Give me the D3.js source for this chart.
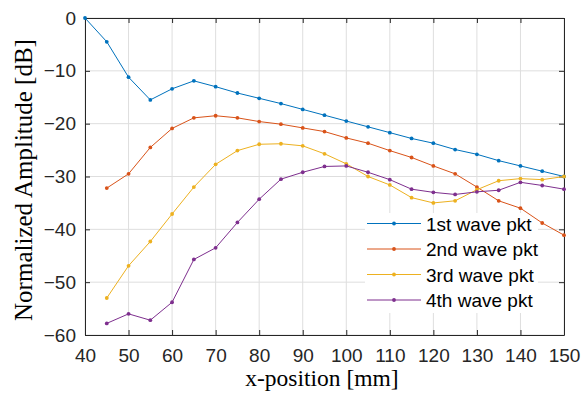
<!DOCTYPE html>
<html lang="en">
<head>
    <meta charset="UTF-8">
    <title>Normalized amplitude</title>
    <script src="https://d3js.org/d3.v7.min.js"></script>
    <style>
        body {margin: 0; background: white;}
        .tick text {font-family: "Liberation Sans", Arial, sans-serif; font-size: 19px; fill: #262626;}
        .lbl {font-family: "Liberation Serif", "Times New Roman", serif; fill: #000;}
        .leg text {font-family: "Liberation Sans", Arial, sans-serif; font-size: 19px; fill: #000;}
    </style>
</head>
<body>
<script>
    const width = 582;
    const height = 394;

    const xPos = [40, 45, 50, 55, 60, 65, 70, 75, 80, 85, 90, 95, 100, 105, 110, 115, 120, 125, 130, 135, 140, 145, 150];

    const pkt1 = [0, -4.5, -11.2, -15.5, -13.4, -11.9, -13.0, -14.2, -15.2, -16.2, -17.3, -18.4, -19.5, -20.6, -21.7, -22.8, -23.7, -24.9, -25.8, -27.0, -28.0, -29.0, -30.0];
    const pkt2 = [null, -32.2, -29.5, -24.5, -20.9, -18.9, -18.5, -18.9, -19.6, -20.1, -20.8, -21.5, -22.7, -23.7, -25.1, -26.4, -28.0, -29.5, -32.0, -34.6, -36.0, -38.8, -41.1];
    const pkt3 = [null, -53.0, -46.9, -42.3, -37.1, -32.0, -27.7, -25.1, -23.9, -23.8, -24.2, -25.7, -27.6, -30.0, -31.6, -34.0, -35.0, -34.6, -32.5, -30.8, -30.4, -30.6, -30.0];
    const pkt4 = [null, -57.8, -56.0, -57.2, -53.8, -45.7, -43.5, -38.7, -34.3, -30.5, -29.2, -28.1, -28.0, -29.2, -30.6, -32.4, -33.0, -33.4, -32.9, -32.6, -31.1, -31.7, -32.4];

    const names = ["1st wave pkt", "2nd wave pkt", "3rd wave pkt", "4th wave pkt"];
    const colors = ["#0072BD", "#D95319", "#EDB120", "#7E2F8E"];

    const xTicks = d3.range(40, 151, 10);
    const yTicks = d3.range(-60, 1, 10);

    const margin = {left: 85, right: 18, top: 18, bottom: 59};

    const svg = d3.select("body").append("svg")
            .attr("width", width).attr("height", height);

    const x = d3.scaleLinear().domain([40, 150]).range([margin.left, width - margin.right]);
    const y = d3.scaleLinear().domain([-60, 0]).range([height - margin.bottom, margin.top]);

    // grid
    svg.append("g").selectAll("line.gx")
            .data(xTicks).enter().append("line")
            .attr("x1", d => x(d)).attr("x2", d => x(d))
            .attr("y1", y(-60)).attr("y2", y(0))
            .style("stroke", "#dedede").style("stroke-width", 1);
    svg.append("g").selectAll("line.gy")
            .data(yTicks).enter().append("line")
            .attr("x1", x(40)).attr("x2", x(150))
            .attr("y1", d => y(d)).attr("y2", d => y(d))
            .style("stroke", "#dedede").style("stroke-width", 1);

    // axes, ticks inward on all four sides
    const axisColor = "#262626";
    function styleAxis(g) {
        g.select(".domain").style("stroke", axisColor);
        g.selectAll(".tick line").style("stroke", axisColor);
    }

    svg.append("g").attr("transform", `translate(0,${y(-60)})`)
            .call(d3.axisBottom(x).tickValues(xTicks).tickSizeInner(-5).tickSizeOuter(0).tickPadding(14))
            .call(styleAxis);
    svg.append("g").attr("transform", `translate(0,${y(0)})`)
            .call(d3.axisTop(x).tickValues(xTicks).tickSizeInner(-5).tickSizeOuter(0).tickFormat(""))
            .call(styleAxis);
    svg.append("g").attr("transform", `translate(${x(40)},0)`)
            .call(d3.axisLeft(y).tickValues(yTicks).tickSizeInner(-5).tickSizeOuter(0).tickPadding(9))
            .call(styleAxis);
    svg.append("g").attr("transform", `translate(${x(150)},0)`)
            .call(d3.axisRight(y).tickValues(yTicks).tickSizeInner(-5).tickSizeOuter(0).tickFormat(""))
            .call(styleAxis);

    svg.selectAll("g").attr("font-family", null).attr("font-size", null);

    // series
    const series = [pkt1, pkt2, pkt3, pkt4].map((vals, i) => ({
        name: names[i],
        color: colors[i],
        points: xPos.map((xv, j) => ({x: xv, y: vals[j]})).filter(p => p.y !== null)
    }));

    const line = d3.line().x(d => x(d.x)).y(d => y(d.y));

    // legend background sits under the lines, as in the original
    const leg = svg.append("g").attr("class", "leg");
    leg.append("rect")
            .attr("x", 365).attr("y", 213).attr("width", 173).attr("height", 100)
            .style("fill", "white");

    const grp = svg.selectAll("g.series")
            .data(series).enter()
            .append("g").attr("class", "series");

    grp.append("path")
            .attr("d", d => line(d.points))
            .style("fill", "none")
            .style("stroke", d => d.color)
            .style("stroke-width", 1);

    grp.each(function(s) {
        d3.select(this).selectAll("circle")
                .data(s.points).enter().append("circle")
                .attr("cx", d => x(d.x)).attr("cy", d => y(d.y))
                .attr("r", 1.9)
                .style("fill", s.color);
    });

    const item = svg.append("g").attr("class", "leg")
            .selectAll("g.item")
            .data(series).enter().append("g")
            .attr("transform", (d, i) => `translate(0,${223.5 + i * 25.5})`);
    item.append("line")
            .attr("x1", 367).attr("x2", 421).attr("y1", 0).attr("y2", 0)
            .style("stroke", d => d.color).style("stroke-width", 1);
    item.append("circle")
            .attr("cx", 394).attr("cy", 0).attr("r", 1.9)
            .style("fill", d => d.color);
    item.append("text")
            .attr("x", 426).attr("y", 7)
            .text(d => d.name);

    // axis labels
    svg.append("text").attr("class", "lbl")
            .attr("x", 322).attr("y", 386)
            .attr("text-anchor", "middle")
            .style("font-size", "23.5px")
            .text("x-position [mm]");
    svg.append("text").attr("class", "lbl")
            .attr("transform", `translate(32,180) rotate(-90)`)
            .attr("text-anchor", "middle")
            .style("font-size", "25px")
            .text("Normalized Amplitude [dB]");
</script>
</body>
</html>
